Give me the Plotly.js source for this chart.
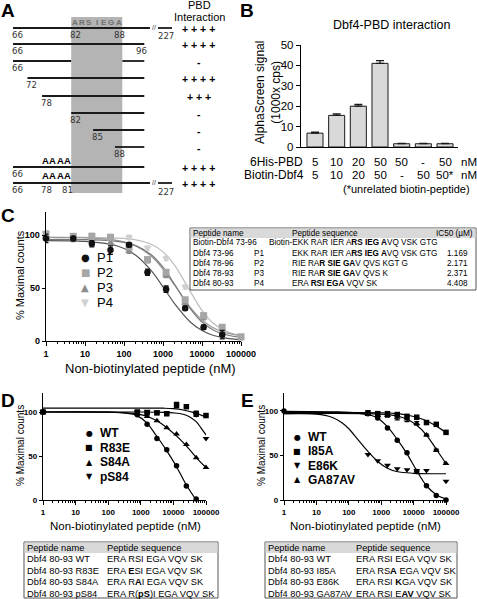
<!DOCTYPE html>
<html><head><meta charset="utf-8">
<script src="https://cdn.plot.ly/plotly-3.0.1.min.js"></script>
<style>html,body{margin:0;padding:0;background:#fff;}#chart{width:477px;height:599px;}</style>
</head><body><div id="chart"></div>
<script>
// ================= DATA =================
// Panel A: deletion / mutation constructs of Dbf4 (residue numbers)
const constructStart = [66, 66, 66, 72, 78, 82, 85, 88, 66, 66];
const constructEnd   = [227, 96, 96, 96, 96, 96, 96, 96, 96, 227];
const constructGap   = [null, null, [82, 88], null, null, null, null, null, null, null];
const constructLabels = [[66, 82, 88], [66, 96], [66], [72], [78], [82], [85], [88], [66], [66, 78, 81]];
const alaMutated     = [false, false, false, false, false, false, false, false, true, true];
const alaResidues    = [78, 79, 80, 81];
const pbdInteraction = ['+ + + +', '+ + + +', '-', '+ + + +', '+ + +', '-', '-', '-', '+ + + +', '+ + + +'];
const motifStart = 82;
const motifLetters = ['A', 'R', 'S', 'I', 'E', 'G', 'A'];

// Panel B
const pbdConc  = ['5', '10', '20', '50', '50', '-', '50'];
const dbf4Conc = ['5', '10', '20', '50', '-', '50', '50*'];
const alphaSignal = [6.8, 15.5, 20.0, 41.0, 1.6, 1.6, 1.6];
const alphaErr    = [0.5, 0.7, 0.9, 1.3, 0.2, 0.2, 0.2];

// Panel C (nM)
const cConc = [1, 5, 15, 45, 135, 400, 1200, 3700, 11000, 33000, 100000];
const cP1 = [97, 97, 92, 86, 91, 65, 49, 31, 13, 6, null];
const cP1err = [4, 2, 3, 4, 2, 3, 3, 2, 2, 4, 0];
const cP2 = [101, 99, 99, 98, 89, 77, 65, 39, 24, 13, 4];
const cP2err = [3, 2, 2, 2, 2, 2, 2, 2, 2, 2, 1];
const cP3 = [98, 96, 97, 93, 85, 76, 62, 36, 22, 9, null];
const cP3err = [2, 2, 2, 2, 2, 2, 2, 2, 2, 2, 0];
const cP4 = [102, 98, 100, 99, 98, 88, 78, 51, 23, 10, 1];
const cP4err = [2, 2, 2, 2, 2, 2, 2, 2, 2, 2, 1];
const cFitX = [1, 10, 50, 100, 200, 500, 1000, 2000, 5000, 10000, 20000, 50000, 100000];
const cFitP1 = [95, 94.2, 91.1, 87.5, 81.1, 66.5, 51.2, 35.1, 18.0, 9.9, 5.2, 2.2, 1.1];
const cFitP2 = [98, 97.6, 95.9, 93.8, 90.0, 80.2, 68.0, 52.5, 31.8, 19.9, 12.3, 7.0, 5.0];
const cFitP3 = [96, 95.8, 94.7, 93.2, 90.2, 81.6, 69.8, 53.4, 30.7, 18.0, 10.2, 5.2, 3.5];
const cFitP4 = [98, 98, 97.6, 97.0, 95.7, 91.5, 84.3, 71.5, 46.9, 28.9, 16.3, 7.9, 5.2];
const cTableNames = ['Biotin-Dbf4 73-96', 'Dbf4 73-96', 'Dbf4 78-96', 'Dbf4 78-93', 'Dbf4 80-93'];
const cTableIds   = ['', 'P1', 'P2', 'P3', 'P4'];
const cTableSeqs  = ['Biotin-EKK RAR IER A<b>RS IEG A</b>VQ VSK GTG', 'EKK RAR IER A<b>RS IEG A</b>VQ VSK GTG',
                     'RIE RA<b>R SIE GA</b>V QVS KGT G', 'RIE RA<b>R SIE GA</b>V QVS K', 'ERA <b>RSI EGA</b> VQV SK'];
const cTableIC50  = ['', '1.169', '2.171', '2.371', '4.408'];

// Panel D (nM)
const dWTx = [1, 781, 1562, 3125, 6250, 12500, 25000, 50000];
const dWTy = [100, 97, 86, 70, 57, 39, 16, 1];
const dR83Ex = [1, 781, 1562, 3125, 6250, 12500, 25000, 50000, 100000];
const dR83Ey = [100, 100, 99, 99, 98, 108, 106, 98, 96];
const dR83Eerr = [0, 1, 1, 1, 1, 3, 1, 3, 1];
const dS84Ax = [1, 781, 1562, 3125, 6250, 12500, 25000, 50000, 100000];
const dS84Ay = [100, 98, 95, 90, 82, 75, 63, 48, 37];
const dpS84x = [1, 781, 1562, 3125, 6250, 50000, 100000];
const dpS84y = [100, 100, 101, 100, 99, 97, 70];
const dFitWTx = [1, 100, 300, 700, 1500, 3000, 6000, 12000, 25000, 50000];
const dFitWTy = [100, 99.8, 99, 96.5, 88, 73, 57, 39, 17, 0];
const dFitR83Ex = [1, 1000, 5000, 10000, 20000, 40000, 70000, 100000];
const dFitR83Ey = [104.5, 104.5, 104.3, 103.8, 102.3, 99.5, 96.5, 94.5];
const dFitS84Ax = [1, 100, 500, 1000, 2000, 4000, 8000, 15000, 30000, 60000, 100000];
const dFitS84Ay = [100, 99.8, 98.5, 97, 93.5, 87.5, 79, 70, 58, 45, 37];
const dFitpS84x = [1, 1000, 5000, 10000, 20000, 30000, 50000, 70000, 100000];
const dFitpS84y = [100, 100, 99.6, 99, 97.5, 95, 89, 82, 74];
const dTableNames = ['Dbf4 80-93 WT', 'Dbf4 80-93 R83E', 'Dbf4 80-93 S84A', 'Dbf4 80-93 pS84'];
const dTableSeqs  = ['ERA RSI EGA VQV SK', 'ERA <b>E</b>SI EGA VQV SK', 'ERA R<b>A</b>I EGA VQV SK', 'ERA R(<b>pS</b>)I EGA VQV SK'];

// Panel E (nM)
const eWTx = [1, 390, 781, 1562, 3125, 6250, 12500, 25000, 50000, 100000];
const eWTy = [100, 97, 92, 81, 67, 53, 32, 16, 5, 0];
const eI85Ax = [390, 781, 1562, 3125, 6250, 12500, 25000, 50000, 100000];
const eI85Ay = [98, 97, 97, 96, 94, 93, 87, 85, 76];
const eE86Kx = [390, 781, 1562, 3125, 6250, 12500, 25000, 100000];
const eE86Ky = [51, 44, 39, 35, 34, 33, 33, 21];
const eGAx = [390, 781, 1562, 3125, 6250, 12500, 25000, 50000, 100000];
const eGAy = [96, 95, 95, 93, 91, 86, 73, 56, 41];
const eGAerr = [1, 1, 2, 3, 3, 2, 1, 1, 1];
const eFitWTx = [1, 30, 100, 300, 700, 1500, 3000, 6000, 12000, 25000, 50000, 100000];
const eFitWTy = [99.5, 99, 98.5, 96.5, 93, 83, 69, 53, 34, 16, 6, 1];
const eFitI85Ax = [1, 1000, 3000, 6000, 12000, 25000, 50000, 100000];
const eFitI85Ay = [98.5, 98, 97, 95.5, 93, 89, 83, 75.5];
const eFitE86Kx = [1, 10, 30, 60, 100, 200, 400, 800, 1500, 3000, 10000, 100000];
const eFitE86Ky = [97, 96.5, 93, 87, 80, 67, 54, 43, 36, 32, 30, 29.5];
const eFitGAx = [1, 1000, 3000, 6000, 12000, 25000, 50000, 100000];
const eFitGAy = [97, 96.5, 94.5, 91, 84.5, 73, 57, 41];
const eTableNames = ['Dbf4 80-93 WT', 'Dbf4 80-93 I85A', 'Dbf4 80-93 E86K', 'Dbf4 80-93 GA87AV'];
const eTableSeqs  = ['ERA RSI EGA VQV SK', 'ERA RS<b>A</b> EGA VQV SK', 'ERA RSI <b>K</b>GA VQV SK', 'ERA RSI E<b>AV</b> VQV SK'];

const decades = [1, 10, 100, 1000, 10000, 100000];
const decadeLabels = ['1', '10', '100', '1000', '10000', '100000'];

// ================= DRAWING =================
const W = 477, H = 599;
const F = 'Liberation Sans, Arial, sans-serif';
const X = p => p / W, Y = p => 1 - p / H;
const ann = [], shapes = [];
function txt(x, y, text, o) {
  o = o || {};
  ann.push({xref: 'paper', yref: 'paper', x: X(x), y: Y(y), text: text, showarrow: false,
    xanchor: o.xa || 'center', yanchor: o.ya || 'middle', textangle: o.angle || 0, borderpad: 0,
    font: {family: o.family || F, size: o.size || 10, color: o.color || '#000', weight: o.bold ? 'bold' : 'normal'}});
}
function line(x0, y0, x1, y1, c, w) {
  shapes.push({type: 'line', xref: 'paper', yref: 'paper', x0: X(x0), y0: Y(y0), x1: X(x1), y1: Y(y1),
    line: {color: c || '#1a1a1a', width: w || 1.8}, layer: 'above'});
}
function rect(x0, y0, x1, y1, fill, lc, lw) {
  shapes.push({type: 'rect', xref: 'paper', yref: 'paper', x0: X(x0), y0: Y(y0), x1: X(x1), y1: Y(y1),
    fillcolor: fill, line: {color: lc || 'rgba(0,0,0,0)', width: lw || 0}, layer: 'above'});
}

// ---- Panel letters
[['A', 8, 10], ['B', 247, 10], ['C', 8, 215], ['D', 8, 400], ['E', 247, 400]].forEach(l => txt(l[1], l[2], l[0], {size: 19, bold: true}));

// ---- Panel A
const rowY = [28, 44, 61, 78, 96, 113, 130, 147, 167, 183];
function resPx(n) { if (n <= 78) return 13 + (n - 66) * 2.42; if (n <= 89) return 42 + (n - 78) * 7.3; return 122.3 + (n - 89) * 2.75; }
rect(resPx(motifStart), 17, resPx(motifStart + motifLetters.length), 193, '#b4b4b4');
motifLetters.forEach((L, i) => txt(resPx(motifStart + i) + 3.65, 23, L, {size: 8, color: '#707070', bold: true}));
const NARROW = 'Liberation Sans Narrow, DejaVu Sans Condensed, sans-serif';
constructStart.forEach((s, i) => {
  const y = rowY[i], e = constructEnd[i];
  const x0 = resPx(s);
  let xe = e === 227 ? 150 : resPx(e + 1);
  if (constructGap[i]) {
    line(x0, y, resPx(constructGap[i][0]), y);
    line(resPx(constructGap[i][1] + 1), y, xe, y);
  } else line(x0, y, xe, y);
  if (e === 227) {
    line(158, y, 172, y);
    txt(154, y - 1, '//', {size: 7, color: '#333'});
    txt(166, y + 8, '227', {size: 9.5, family: NARROW, color: '#333'});
  }
  constructLabels[i].forEach(n => {
    if (n === e) txt(resPx(e + 1) - 2.5, y + 6.5, String(n), {size: 9.5, family: NARROW, color: '#333'});
    else txt(resPx(n) + 4, y + 6.5, String(n), {size: 9.5, family: NARROW, color: '#333'});
  });
  if (alaMutated[i]) alaResidues.forEach(n => txt(resPx(n) + 3.65, y - 7, 'A', {size: 9.5, bold: true}));
  txt(198.5, y + 0.5, pbdInteraction[i], {size: 10.5, bold: true});
});
txt(199, 5, 'PBD', {size: 11});
txt(199, 17, 'Interaction', {size: 11});

// ---- Panel B annotations
const bCats = pbdConc.map((p, i) => p + '/' + dbf4Conc[i]);
txt(391, 25, 'Dbf4-PBD interaction', {size: 12.5});
txt(268, 93, 'AlphaScreen signal<br>(1000x cps)', {size: 12, angle: -90});
txt(304, 162, '6His-PBD', {size: 12, xa: 'right'});
txt(305, 175, 'Biotin-Dbf4', {size: 12, xa: 'right'});
bCats.forEach((c, i) => {
  ann.push({xref: 'x', yref: 'paper', x: c, y: Y(162), text: pbdConc[i], showarrow: false, xanchor: 'center', yanchor: 'middle', font: {family: F, size: 11.5, color: '#000'}});
  ann.push({xref: 'x', yref: 'paper', x: c, y: Y(175), text: dbf4Conc[i], showarrow: false, xanchor: 'center', yanchor: 'middle', font: {family: F, size: 11.5, color: '#000'}});
});
txt(469, 162, 'nM', {size: 11.5});
txt(469, 175, 'nM', {size: 11.5});
txt(406, 189, '(*unrelated biotin-peptide)', {size: 11});

// ---- Panel C annotations
txt(20, 275, '% Maximal counts', {size: 11, angle: -90});
txt(150, 368, 'Non-biotinylated peptide (nM)', {size: 13});
const cLegend = [['●', '#111111', 'P1'], ['■', '#a6a6a6', 'P2'], ['▲', '#8c8c8c', 'P3'], ['▼', '#cfcfcf', 'P4']];
cLegend.forEach((l, i) => { const y = 257 + i * 15; txt(85, y, l[0], {size: 10, color: l[1], family: 'DejaVu Sans'}); txt(96, y, l[2], {size: 13, xa: 'left'}); });
// C table
rect(190, 228, 476, 290, '#ffffff', '#555555', 1);
rect(190.5, 228.5, 475.5, 238, '#d9d9d9');
const CT = 8.2;
txt(192, 233, 'Peptide name', {size: CT, xa: 'left'});
txt(291, 233, 'Peptide sequence', {size: CT, xa: 'left'});
txt(474, 233, 'IC50 (µM)', {size: CT, xa: 'right'});
cTableNames.forEach((n, i) => {
  const y = 243 + i * 10;
  txt(192, y, n, {size: CT, xa: 'left'});
  if (cTableIds[i]) txt(253, y, cTableIds[i], {size: CT, xa: 'left'});
  txt(i === 0 ? 268 : 291, y, cTableSeqs[i], {size: CT, xa: 'left'});
  if (cTableIC50[i]) txt(469, y, cTableIC50[i], {size: CT, xa: 'right'});
});

// ---- Panel D / E annotations
txt(20, 446, '% Maximal counts', {size: 10, angle: -90});
txt(261, 446, '% Maximal counts', {size: 10, angle: -90});
txt(125, 526, 'Non-biotinylated peptide (nM)', {size: 11.5});
txt(365, 526, 'Non-biotinylated peptide (nM)', {size: 11.5});
const dLegend = [['●', 'WT'], ['■', 'R83E'], ['▲', 'S84A'], ['▼', 'pS84']];
dLegend.forEach((l, i) => { const y = 433 + i * 14.5; txt(89, y, l[0], {size: 8, family: 'DejaVu Sans'}); txt(99, y, l[1], {size: 12, bold: true, xa: 'left'}); });
const eLegend = [['●', 'WT'], ['■', 'I85A'], ['▼', 'E86K'], ['▲', 'GA87AV']];
eLegend.forEach((l, i) => { const y = 437 + i * 14.3; txt(297, y, l[0], {size: 8, family: 'DejaVu Sans'}); txt(307, y, l[1], {size: 12, bold: true, xa: 'left'}); });
const DT = 9.3;
function smallTable(x0, x1, col2, names, seqs) {
  rect(x0, 542, x1, 598, '#ffffff', '#555555', 1);
  rect(x0 + 0.5, 542.5, x1 - 0.5, 553, '#d9d9d9');
  txt(x0 + 2, 547.5, 'Peptide name', {size: DT, xa: 'left'});
  txt(col2, 547.5, 'Peptide sequence', {size: DT, xa: 'left'});
  names.forEach((n, i) => { const y = 559 + i * 11.5; txt(x0 + 2, y, n, {size: DT, xa: 'left'}); txt(col2, y, seqs[i], {size: DT, xa: 'left'}); });
}
smallTable(24, 218, 106, dTableNames, dTableSeqs);
smallTable(265, 457, 355, eTableNames, eTableSeqs);

// ---- Traces
const traces = [];
traces.push({type: 'bar', x: bCats, y: alphaSignal, xaxis: 'x', yaxis: 'y', width: 0.74,
  marker: {color: '#d9d9d9', line: {color: '#1a1a1a', width: 1}},
  error_y: {type: 'data', symmetric: false, array: alphaErr, arrayminus: alphaErr.map(() => 0), color: '#1a1a1a', thickness: 1.2, width: 4},
  showlegend: false, hoverinfo: 'skip'});
function fit(x, y, ax, color, w) {
  traces.push({type: 'scatter', mode: 'lines', x: x, y: y, xaxis: 'x' + ax, yaxis: 'y' + ax,
    line: {color: color, width: w || 1.2, shape: 'spline', smoothing: 1}, showlegend: false, hoverinfo: 'skip', cliponaxis: false});
}
function pts(x, y, ax, sym, color, size, err, errColor) {
  const t = {type: 'scatter', mode: 'markers', x: x, y: y, xaxis: 'x' + ax, yaxis: 'y' + ax,
    marker: {symbol: sym, color: color, size: size}, showlegend: false, hoverinfo: 'skip', cliponaxis: false};
  if (err) t.error_y = {type: 'data', array: err, color: errColor || color, thickness: 1.3, width: 2.5};
  traces.push(t);
}
// C
fit(cFitX, cFitP4, 2, '#bdbdbd'); fit(cFitX, cFitP2, 2, '#9a9a9a'); fit(cFitX, cFitP3, 2, '#787878'); fit(cFitX, cFitP1, 2, '#555555');
pts(cConc, cP4, 2, 'triangle-down', '#cfcfcf', 7, cP4err);
pts(cConc, cP3, 2, 'triangle-up', '#8c8c8c', 7, cP3err);
pts(cConc, cP2, 2, 'square', '#a6a6a6', 7, cP2err);
pts(cConc, cP1, 2, 'circle', '#111111', 6.5, cP1err, '#111111');
// D
fit(dFitR83Ex, dFitR83Ey, 3, '#000'); fit(dFitpS84x, dFitpS84y, 3, '#000'); fit(dFitS84Ax, dFitS84Ay, 3, '#000'); fit(dFitWTx, dFitWTy, 3, '#000');
pts(dR83Ex, dR83Ey, 3, 'square', '#000', 5.5, dR83Eerr);
pts(dpS84x, dpS84y, 3, 'triangle-down', '#000', 6);
pts(dS84Ax, dS84Ay, 3, 'triangle-up', '#000', 6);
pts(dWTx, dWTy, 3, 'circle', '#000', 5.5);
// E
fit(eFitI85Ax, eFitI85Ay, 4, '#000'); fit(eFitGAx, eFitGAy, 4, '#000'); fit(eFitE86Kx, eFitE86Ky, 4, '#000'); fit(eFitWTx, eFitWTy, 4, '#000');
pts(eI85Ax, eI85Ay, 4, 'square', '#000', 5.5);
pts(eGAx, eGAy, 4, 'triangle-up', '#000', 6, eGAerr);
pts(eE86Kx, eE86Ky, 4, 'triangle-down', '#000', 6);
pts(eWTx, eWTy, 4, 'circle', '#000', 5.5);

// ---- Axes
const logMinor = [];
for (let d = 0; d < 5; d++) for (let m = 2; m < 10; m++) logMinor.push(m * Math.pow(10, d));
function logX(px0, px1, anchor, fs) {
  return {type: 'log', range: [0, 5], domain: [X(px0), X(px1)], anchor: anchor, tickmode: 'array', tickvals: decades, ticktext: decadeLabels,
    ticks: 'outside', ticklen: 4, tickwidth: 1, tickcolor: '#000', showline: true, linecolor: '#000', linewidth: 1.3,
    showgrid: false, zeroline: false, tickfont: {family: F, size: fs, weight: 'bold', color: '#000'},
    minor: {tickmode: 'array', tickvals: logMinor, ticks: 'outside', ticklen: 2, tickwidth: 1, tickcolor: '#000', showgrid: false}};
}
function pctY(pyBottom, pyTop, top, anchor, fs) {
  return {range: [0, top], domain: [Y(pyBottom), Y(pyTop)], anchor: anchor, tickmode: 'array', tickvals: [0, 50, 100], ticktext: ['0', '50', '100'],
    ticks: 'outside', ticklen: 3, tickwidth: 1, tickcolor: '#000', showline: true, linecolor: '#000', linewidth: 1.3,
    showgrid: false, zeroline: false, tickfont: {family: F, size: fs, weight: 'bold', color: '#000'}};
}
const layout = {
  width: W, height: H, margin: {l: 0, r: 0, t: 0, b: 0}, paper_bgcolor: '#fff', plot_bgcolor: 'rgba(0,0,0,0)',
  showlegend: false, font: {family: F, color: '#000'},
  xaxis: {type: 'category', domain: [X(301), X(458)], range: [-0.646, 6.6], anchor: 'y', showline: true, linecolor: '#000', linewidth: 1.2,
    ticks: '', showticklabels: false, showgrid: false, zeroline: false},
  yaxis: {range: [0, 50], domain: [Y(147), Y(45)], anchor: 'x', dtick: 10, tick0: 0, ticks: 'outside', ticklen: 4, tickcolor: '#000',
    showline: true, linecolor: '#000', linewidth: 1.2, showgrid: false, zeroline: false, tickfont: {family: F, size: 11.5, color: '#000'}},
  xaxis2: logX(46, 241, 'y2', 9),
  yaxis2: pctY(341, 212, 122, 'x2', 9),
  xaxis3: logX(43, 206, 'y3', 8),
  yaxis3: pctY(500, 393, 121.6, 'x3', 8),
  xaxis4: logX(284, 446, 'y4', 8),
  yaxis4: pctY(500, 393, 120.2, 'x4', 8),
  shapes: shapes, annotations: ann
};
Plotly.newPlot('chart', traces, layout, {staticPlot: true, displayModeBar: false});
</script></body></html>
